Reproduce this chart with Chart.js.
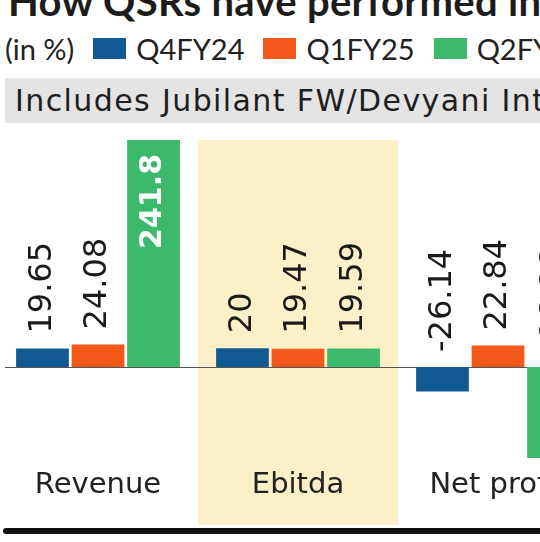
<!DOCTYPE html>
<html>
<head>
<meta charset="utf-8">
<script src="https://cdn.jsdelivr.net/npm/chart.js@4"></script>
<style>
html, body { margin: 0; padding: 0; background: #fff; width: 540px; height: 542px; overflow: hidden; position: relative; font-family: Lato, sans-serif; color: #222; }
#title { position: absolute; left: 8px; top: -19px; font-size: 40px; font-weight: 700; line-height: 40px; white-space: nowrap; color: #1c1c1c; letter-spacing: 0.3px; }
#legend { position: absolute; left: 5px; top: 33px; height: 30px; display: flex; align-items: center; font-size: 29px; white-space: nowrap; }
#legend .sw { display: inline-block; width: 33px; height: 21px; margin: 0 10px 0 19px; }
#note { position: absolute; left: 5px; top: 78px; width: 560px; height: 45px; background: #e4e4e4; font-family: 'DejaVu Sans', sans-serif; font-size: 30px; letter-spacing: 1.4px; line-height: 45px; padding-left: 10px; white-space: nowrap; color: #1e1e1e; }
#wrap { position: absolute; left: -2px; top: 130px; }
#rule { position: absolute; left: 3px; top: 528px; width: 560px; height: 6px; background: #111; border-radius: 3px; }
</style>
</head>
<body>
<div id="title">How QSRs have performed in Q2FY25</div>
<div id="legend"><span>(in %)</span></div>
<div id="note">Includes Jubilant FW/Devyani Intl/Westlife</div>
<div id="wrap"><canvas id="qsrChart" width="600" height="412"></canvas></div>
<div id="rule"></div>
<script>
const categories = ['Revenue', 'Ebitda', 'Net profit'];
const seriesNames = ['Q4FY24', 'Q1FY25', 'Q2FY25'];
const q4fy24 = [19.65, 20, -26.14];
const q1fy25 = [24.08, 19.47, 22.84];
const q2fy25 = [241.8, 19.59, -96.86];
const seriesColors = ['#125b92', '#f2591b', '#3db96b'];
const shadedCategory = 'Ebitda';

// html legend
const legend = document.getElementById('legend');
seriesNames.forEach((name, i) => {
    const sw = document.createElement('span');
    sw.className = 'sw';
    sw.style.background = seriesColors[i];
    legend.appendChild(sw);
    const t = document.createElement('span');
    t.textContent = name;
    legend.appendChild(t);
});

// shaded column + zero line, drawn before the axis labels
const bandPlugin = {
    id: 'band',
    beforeDraw(chart) {
        const ctx = chart.ctx;
        const x = chart.scales.x;
        const idx = categories.indexOf(shadedCategory);
        const w = x.width / categories.length;
        const cx = x.getPixelForValue(idx);
        ctx.save();
        ctx.fillStyle = '#fdefc8';
        ctx.fillRect(cx - w / 2, 10, w, 385);
        const zy = chart.scales.y.getPixelForValue(0);
        ctx.fillStyle = '#555';
        ctx.fillRect(7, Math.round(zy), chart.width, 1);
        ctx.restore();
    }
};

const valueLabels = {
    id: 'valueLabels',
    afterDatasetsDraw(chart) {
        const ctx = chart.ctx;
        const zeroY = chart.scales.y.getPixelForValue(0);
        chart.data.datasets.forEach((ds, i) => {
            chart.getDatasetMeta(i).data.forEach((bar, j) => {
                const txt = String(ds.data[j]);
                ctx.save();
                const inside = Math.abs(bar.y - bar.base) > 150;
                ctx.font = inside ? 'bold 30px "DejaVu Sans"' : '32px "DejaVu Sans"';
                ctx.textBaseline = 'middle';
                if (inside) {
                    ctx.translate(bar.x, bar.y + 14);
                    ctx.rotate(-Math.PI / 2);
                    ctx.textAlign = 'right';
                    ctx.fillStyle = '#fff';
                } else {
                    ctx.translate(bar.x, Math.min(bar.y, zeroY) - 15);
                    ctx.rotate(-Math.PI / 2);
                    ctx.textAlign = 'left';
                    ctx.fillStyle = '#1a1a1a';
                }
                ctx.fillText(txt, 0, 0);
                ctx.restore();
            });
        });
    }
};

const ctx = document.getElementById('qsrChart').getContext('2d');
const qsrChart = new Chart(ctx, {
    type: 'bar',
    data: {
        labels: categories,
        datasets: [
            { label: seriesNames[0], data: q4fy24, backgroundColor: seriesColors[0] },
            { label: seriesNames[1], data: q1fy25, backgroundColor: seriesColors[1] },
            { label: seriesNames[2], data: q2fy25, backgroundColor: seriesColors[2] }
        ]
    },
    options: {
        responsive: false,
        animation: false,
        events: [],
        categoryPercentage: 0.833,
        barPercentage: 0.95,
        layout: {
            padding: { top: 10, bottom: 7, left: 0, right: 0 }
        },
        plugins: {
            legend: { display: false },
            tooltip: { enabled: false }
        },
        scales: {
            x: {
                grid: { display: false },
                border: { display: false },
                afterFit(scale) { scale.height = 70; },
                ticks: {
                    autoSkip: false,
                    maxRotation: 0,
                    padding: -5,
                    color: '#222',
                    font: { family: 'DejaVu Sans', size: 29 }
                }
            },
            y: {
                display: false,
                min: -104.4,
                max: 241.8
            }
        }
    },
    plugins: [bandPlugin, valueLabels]
});
</script>
</body>
</html>
